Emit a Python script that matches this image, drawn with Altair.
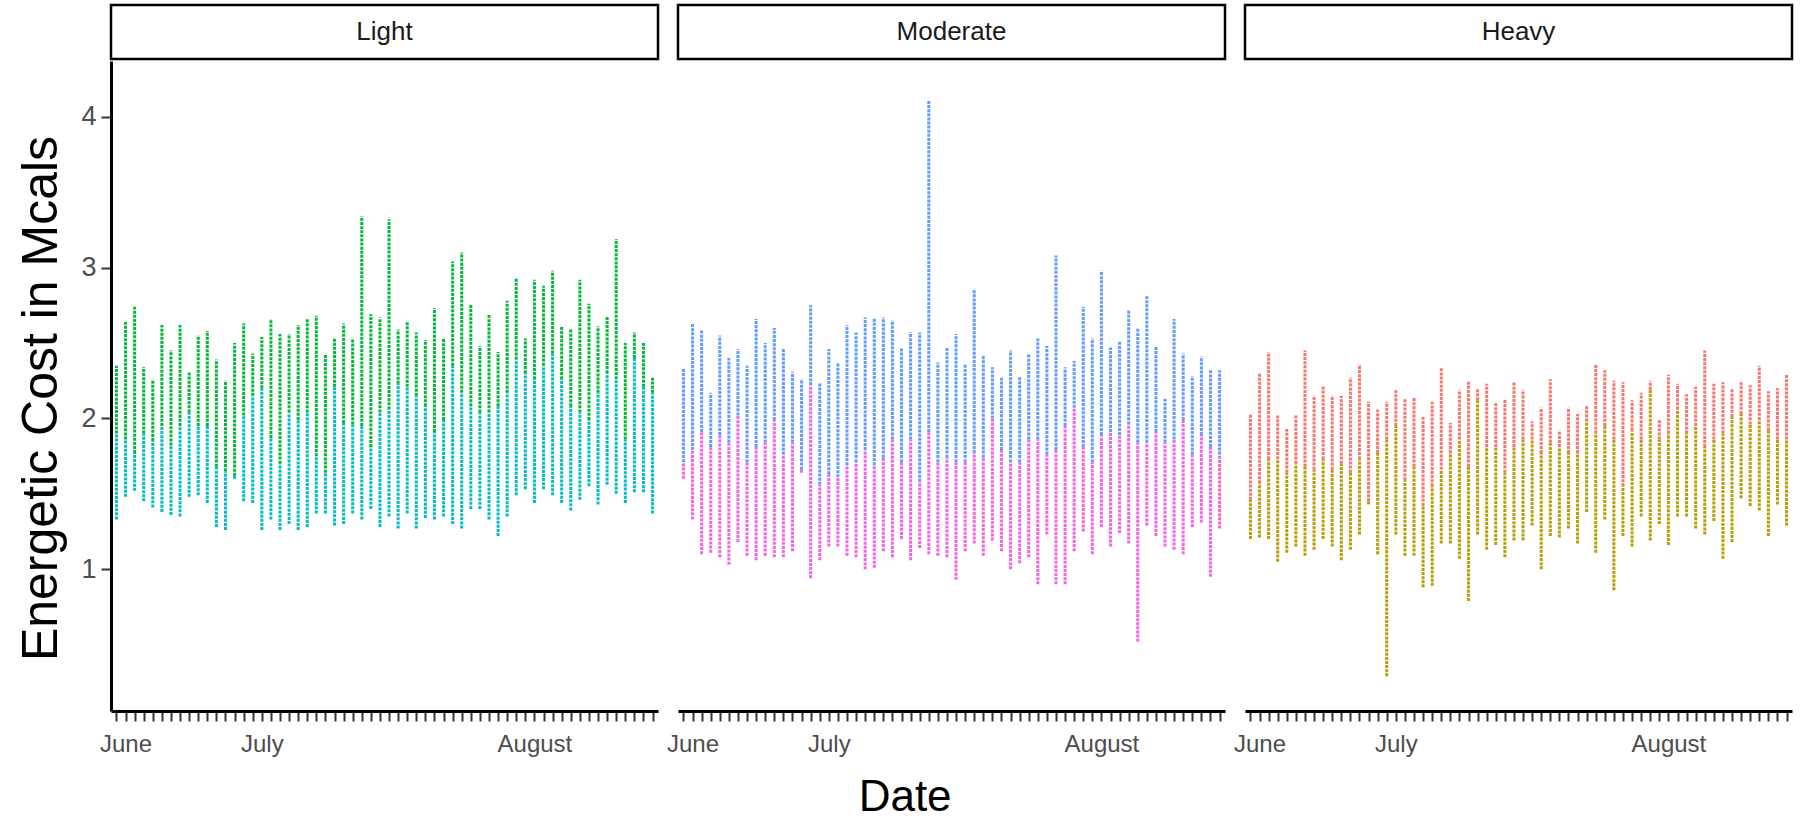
import altair as alt
import pandas as pd

# ---------------- data ----------------
facets = ["Light", "Moderate", "Heavy"]
upper_colors = ["#00BA38", "#619CFF", "#F8766D"]
lower_colors = ["#00BFC4", "#F564E3", "#B79F00"]
month_labels = ["June", "July", "August"]
month_label_pos = [1, 16, 46]
y_ticks = [1, 2, 3, 4]
n_days = 60

light_hi = [2.35, 2.64, 2.74, 2.34, 2.26, 2.62, 2.45, 2.62, 2.31, 2.55, 2.58, 2.39, 2.25, 2.50, 2.63,
            2.43, 2.54, 2.66, 2.56, 2.56, 2.62, 2.66, 2.68, 2.42, 2.53, 2.63, 2.53, 3.34, 2.69, 2.67,
            3.32, 2.59, 2.64, 2.57, 2.52, 2.73, 2.53, 3.04, 3.10, 2.76, 2.48, 2.69, 2.44, 2.78, 2.93,
            2.53, 2.92, 2.88, 2.98, 2.61, 2.59, 2.92, 2.76, 2.61, 2.68, 3.19, 2.50, 2.57, 2.50, 2.27]
light_split = [1.90, 1.86, 1.77, 1.90, 1.85, 1.95, 1.82, 1.95, 2.04, 1.95, 1.95, 1.68, 1.65, 1.62, 2.02,
               2.15, 2.20, 1.87, 1.70, 2.04, 1.99, 2.04, 1.75, 1.64, 2.21, 1.97, 1.96, 1.95, 1.81, 2.04,
               2.06, 2.23, 2.21, 2.15, 2.08, 1.91, 1.99, 2.35, 2.17, 2.08, 2.04, 2.04, 2.08, 2.17, 2.39,
               2.30, 2.26, 2.35, 2.43, 2.26, 2.08, 2.04, 1.99, 2.17, 2.30, 2.26, 1.86, 2.40, 2.21, 2.17]
light_lo = [1.33, 1.48, 1.52, 1.45, 1.41, 1.38, 1.36, 1.35, 1.48, 1.49, 1.44, 1.28, 1.26, 1.60, 1.45,
            1.44, 1.26, 1.33, 1.26, 1.30, 1.26, 1.28, 1.37, 1.37, 1.29, 1.30, 1.37, 1.33, 1.40, 1.28,
            1.35, 1.27, 1.37, 1.27, 1.34, 1.33, 1.35, 1.30, 1.27, 1.40, 1.40, 1.33, 1.22, 1.35, 1.49,
            1.53, 1.44, 1.53, 1.49, 1.44, 1.39, 1.46, 1.55, 1.43, 1.56, 1.50, 1.44, 1.51, 1.51, 1.37]

moderate_hi = [2.33, 2.63, 2.59, 2.17, 2.55, 2.40, 2.46, 2.35, 2.66, 2.50, 2.60, 2.46, 2.31, 2.26, 2.75,
               2.24, 2.46, 2.37, 2.62, 2.57, 2.67, 2.67, 2.67, 2.65, 2.47, 2.57, 2.57, 4.11, 2.37, 2.47,
               2.56, 2.36, 2.86, 2.42, 2.34, 2.27, 2.45, 2.28, 2.43, 2.53, 2.48, 3.08, 2.34, 2.38, 2.74,
               2.53, 2.98, 2.47, 2.51, 2.72, 2.60, 2.81, 2.48, 2.13, 2.66, 2.43, 2.28, 2.41, 2.32, 2.32]
moderate_split = [1.71, 1.79, 1.91, 1.81, 1.89, 1.84, 2.02, 1.71, 1.81, 1.84, 1.99, 1.76, 1.84, 1.66, 2.22,
                  1.56, 1.63, 1.61, 1.69, 1.71, 1.79, 1.69, 1.74, 1.86, 1.71, 1.86, 1.58, 1.91, 1.71, 1.74,
                  1.71, 1.71, 1.77, 1.74, 2.00, 1.79, 1.71, 1.71, 1.86, 1.86, 1.76, 1.79, 1.95, 2.07, 1.81,
                  1.71, 1.89, 1.91, 1.89, 1.96, 1.84, 1.84, 1.91, 1.84, 1.86, 1.99, 1.76, 1.89, 1.81, 1.76]
moderate_lo = [1.60, 1.33, 1.10, 1.11, 1.08, 1.03, 1.18, 1.09, 1.06, 1.09, 1.08, 1.08, 1.12, 1.64, 0.94,
               1.06, 1.15, 1.15, 1.09, 1.08, 1.00, 1.01, 1.12, 1.08, 1.20, 1.06, 1.14, 1.10, 1.09, 1.08,
               0.93, 1.12, 1.17, 1.09, 1.19, 1.12, 1.00, 1.04, 1.08, 0.90, 1.23, 0.90, 0.90, 1.12, 1.25,
               1.10, 1.28, 1.15, 1.24, 1.17, 0.52, 1.29, 1.22, 1.15, 1.13, 1.10, 1.28, 1.31, 0.95, 1.27]

heavy_hi = [2.03, 2.30, 2.44, 2.02, 1.93, 2.02, 2.45, 2.15, 2.21, 2.15, 2.15, 2.27, 2.36, 2.11, 2.06,
            2.11, 2.19, 2.13, 2.14, 2.01, 2.11, 2.34, 1.97, 2.19, 2.25, 2.20, 2.23, 2.10, 2.13, 2.24,
            2.19, 1.98, 2.07, 2.26, 1.92, 2.07, 2.03, 2.08, 2.36, 2.32, 2.25, 2.24, 2.12, 2.17, 2.25,
            1.99, 2.29, 2.23, 2.16, 2.21, 2.45, 2.23, 2.24, 2.20, 2.25, 2.22, 2.35, 2.18, 2.20, 2.29]
heavy_split = [1.46, 1.57, 1.73, 1.73, 1.64, 1.70, 1.68, 1.66, 1.73, 1.66, 1.70, 1.64, 1.73, 1.45, 1.77,
               1.86, 1.95, 1.59, 1.68, 1.42, 1.55, 1.66, 1.77, 1.86, 1.68, 2.12, 1.81, 1.81, 1.64, 1.81,
               1.86, 1.86, 1.77, 1.84, 1.81, 1.77, 1.77, 1.98, 1.90, 1.95, 1.86, 1.55, 1.92, 1.86, 2.19,
               1.86, 1.90, 2.06, 1.90, 1.95, 1.81, 1.86, 1.90, 2.01, 2.03, 1.96, 1.99, 1.92, 1.86, 1.86]
heavy_lo = [1.20, 1.21, 1.20, 1.05, 1.11, 1.15, 1.09, 1.13, 1.20, 1.15, 1.06, 1.13, 1.23, 1.43, 1.10,
            0.29, 1.23, 1.09, 1.09, 0.88, 0.89, 1.17, 1.17, 1.07, 0.79, 1.23, 1.13, 1.16, 1.08, 1.19,
            1.19, 1.29, 1.00, 1.22, 1.21, 1.27, 1.17, 1.38, 1.11, 1.33, 0.86, 1.22, 1.15, 1.35, 1.19,
            1.30, 1.16, 1.35, 1.35, 1.27, 1.23, 1.32, 1.07, 1.18, 1.47, 1.42, 1.39, 1.22, 1.43, 1.29]

series = {
    "Light": (light_hi, light_split, light_lo),
    "Moderate": (moderate_hi, moderate_split, moderate_lo),
    "Heavy": (heavy_hi, heavy_split, heavy_lo),
}

# ---------------- layout / style ----------------
W, H, SH = 547, 650, 54
FONT = "Liberation Sans, Arial, Helvetica, sans-serif"
Y_DOMAIN = [0.06, 4.37]
X_DOMAIN = [-0.6, n_days - 1 + 0.6]
DASH = [3, 1.1]
SW = 3

label_expr = " : ".join(
    f"datum.value == {p} ? '{m}'" for p, m in zip(month_label_pos, month_labels)
) + " : ''"


def make_panel(i, name):
    hi, split, lo = series[name]
    df = pd.DataFrame({"day": list(range(len(hi))), "hi": hi, "split": split, "lo": lo})

    x_axis = alt.Axis(
        values=list(range(n_days)), labelExpr=label_expr, labelOverlap=False, labelFlush=False,
        title=None, grid=False, domainColor="black", domainWidth=3, tickColor="#333333",
        tickWidth=2, tickSize=10, labelColor="#4D4D4D", labelFontSize=24, labelFont=FONT,
        labelPadding=11,
    )
    x = alt.X("day:Q", scale=alt.Scale(domain=X_DOMAIN, nice=False, zero=False), axis=x_axis)

    if i == 0:
        y_axis = alt.Axis(
            values=y_ticks, title="Energetic Cost in Mcals", titleFontSize=50, titleFont=FONT,
            titleFontWeight="normal", titleColor="black", titlePadding=14, titleY=H / 2 + 12,
            grid=False, domainColor="black", domainWidth=3, tickColor="#333333", tickWidth=2,
            tickSize=10, labelColor="#4D4D4D", labelFontSize=27, labelFont=FONT, labelPadding=5,
        )
    else:
        y_axis = None
    yscale = alt.Scale(domain=Y_DOMAIN, nice=False, zero=False)

    base = alt.Chart(df)
    lower = base.mark_rule(
        color=lower_colors[i], strokeWidth=SW, strokeDash=DASH
    ).encode(x=x, y=alt.Y("lo:Q", scale=yscale, axis=y_axis), y2="split:Q")
    upper = base.mark_rule(
        color=upper_colors[i], strokeWidth=SW, strokeDash=DASH
    ).encode(x=x, y=alt.Y("split:Q", scale=yscale, axis=y_axis), y2="hi:Q")
    panel = alt.layer(lower, upper).properties(width=W, height=H)

    sdf = pd.DataFrame({"label": [name]})
    strip_box = alt.Chart(sdf).mark_rect(fill="white", stroke="black", strokeWidth=2.5).encode(
        x=alt.value(0), x2=alt.value(W), y=alt.value(0), y2=alt.value(SH)
    )
    strip_txt = alt.Chart(sdf).mark_text(
        font=FONT, fontSize=26, color="#1A1A1A", baseline="middle", align="center"
    ).encode(x=alt.value(W / 2), y=alt.value(SH / 2), text="label:N")
    strip = alt.layer(strip_box, strip_txt).properties(width=W, height=SH)

    return alt.vconcat(strip, panel, spacing=0)


cols = [make_panel(i, name) for i, name in enumerate(facets)]

chart = alt.hconcat(*cols, spacing=6).properties(
    title=alt.TitleParams(
        "Date", orient="bottom", anchor="middle", fontSize=44, font=FONT,
        fontWeight="normal", color="black", offset=20,
    ),
    padding={"left": 16, "top": 3, "right": 5, "bottom": 4},
).configure(background="white", view=alt.ViewConfig(stroke=None))

chart.save("out.html", embed_options={"renderer": "svg", "actions": False})
